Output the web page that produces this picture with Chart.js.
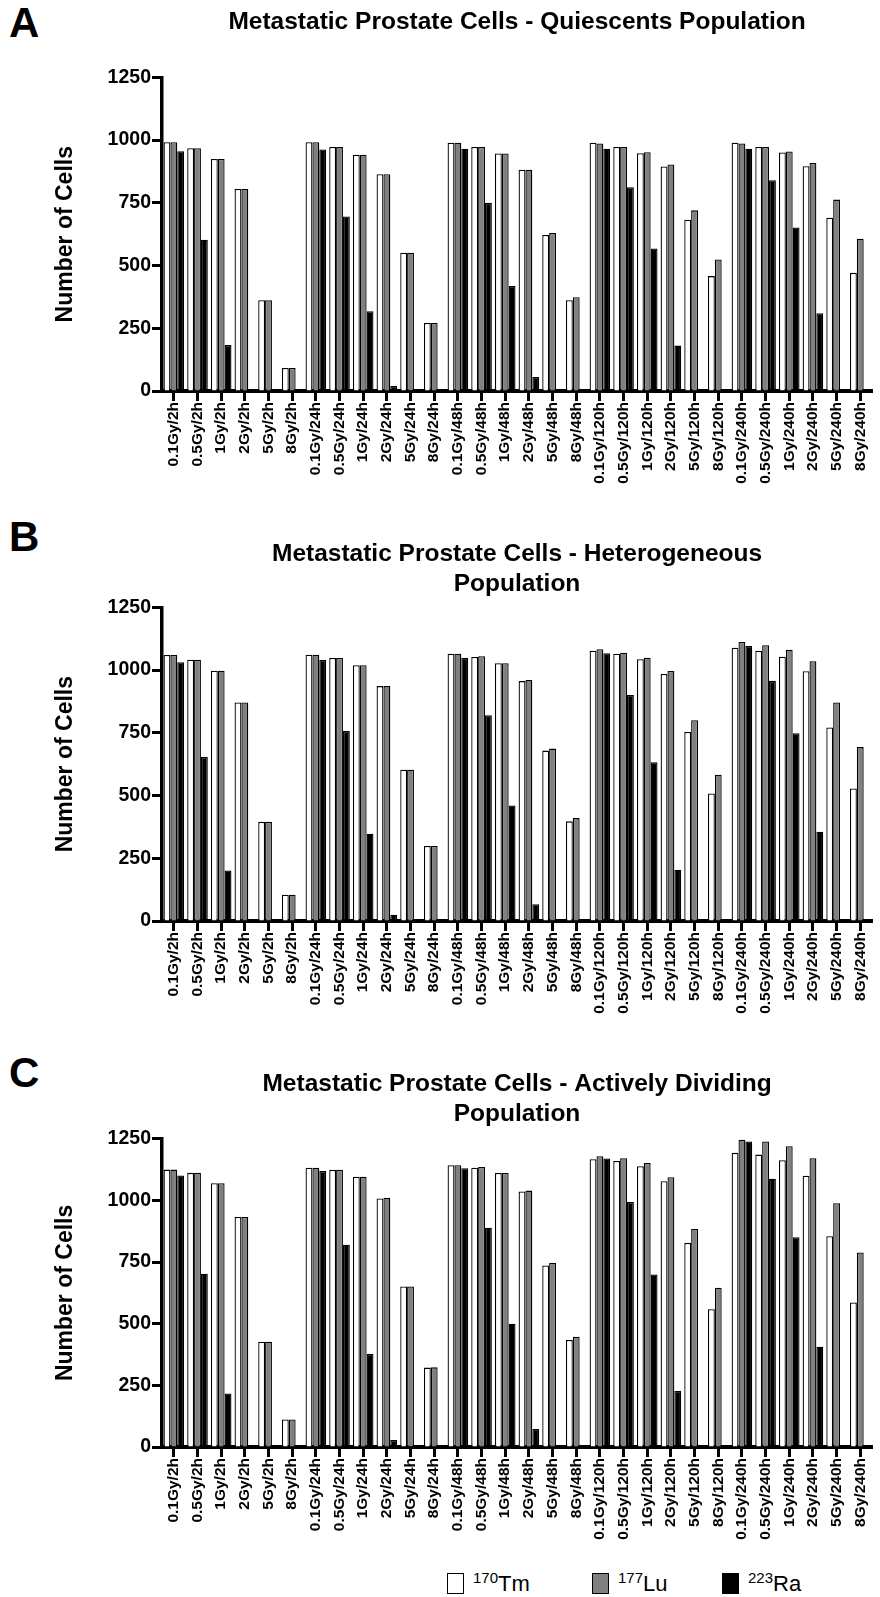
<!DOCTYPE html>
<html>
<head>
<meta charset="utf-8">
<script src="https://cdn.jsdelivr.net/npm/chart.js@4.4.1/dist/chart.umd.min.js"></script>
<style>
  body { margin: 0; background: #fff; font-family: Arial, 'Liberation Sans', sans-serif; }
  #page { position: relative; width: 880px; height: 1597px; overflow: hidden; }
  canvas { position: absolute; left: 0; }
  .letter { position: absolute; left: 9px; font-weight: bold; font-size: 42px; line-height: 42px; }
  .legend { position: absolute; top: 1572px; font-size: 22px; line-height: 24px; white-space: nowrap; }
  .legend .box { display: inline-block; width: 15px; height: 19px; border: 1.5px solid #000; vertical-align: -3px; margin-right: 9px; }
  .legend sup { font-size: 15px; vertical-align: 8px; line-height: 0; }
</style>
</head>
<body>
<div id="page">
  <div class="letter" style="top:2px">A</div>
  <div class="letter" style="top:516px">B</div>
  <div class="letter" style="top:1052px">C</div>

  <canvas id="chartA" width="880" height="490" style="top:0px"></canvas>
  <canvas id="chartB" width="880" height="520" style="top:500px"></canvas>
  <canvas id="chartC" width="880" height="526" style="top:1020px"></canvas>

  <div class="legend" style="left:447px"><span class="box" style="background:#fff"></span><sup>170</sup>Tm</div>
  <div class="legend" style="left:592px"><span class="box" style="background:#808080"></span><sup>177</sup>Lu</div>
  <div class="legend" style="left:722px"><span class="box" style="background:#000"></span><sup>223</sup>Ra</div>
</div>

<script>
// dose / time combinations on the x axis
const labels = [
  '0.1Gy/2h', '0.5Gy/2h', '1Gy/2h', '2Gy/2h', '5Gy/2h', '8Gy/2h',
  '0.1Gy/24h', '0.5Gy/24h', '1Gy/24h', '2Gy/24h', '5Gy/24h', '8Gy/24h',
  '0.1Gy/48h', '0.5Gy/48h', '1Gy/48h', '2Gy/48h', '5Gy/48h', '8Gy/48h',
  '0.1Gy/120h', '0.5Gy/120h', '1Gy/120h', '2Gy/120h', '5Gy/120h', '8Gy/120h',
  '0.1Gy/240h', '0.5Gy/240h', '1Gy/240h', '2Gy/240h', '5Gy/240h', '8Gy/240h'
];
const seriesNames = ['170Tm', '177Lu', '223Ra'];
const yTicks = [0, 250, 500, 750, 1000, 1250];

// A - quiescent population
const tmA = [992, 968, 925, 805, 362, 92, 992, 973, 942, 864, 551, 271, 990, 973, 947, 882, 622, 362, 990, 973, 948, 895, 683, 458, 990, 973, 951, 896, 691, 471];
const luA = [992, 968, 925, 805, 362, 92, 992, 973, 942, 864, 551, 271, 990, 973, 947, 882, 630, 374, 987, 973, 952, 903, 720, 524, 987, 973, 955, 909, 763, 607];
const raA = [956, 603, 183, 0, 0, 0, 963, 696, 318, 20, 0, 0, 966, 750, 419, 56, 0, 0, 966, 812, 568, 181, 0, 0, 966, 840, 652, 310, 0, 0];

// B - heterogeneous population
const tmB = [1060, 1041, 997, 871, 395, 105, 1061, 1048, 1019, 936, 603, 299, 1065, 1052, 1027, 956, 679, 397, 1077, 1065, 1043, 984, 753, 508, 1089, 1077, 1053, 995, 771, 528];
const luB = [1060, 1041, 997, 871, 395, 105, 1061, 1048, 1019, 936, 603, 299, 1065, 1055, 1027, 960, 687, 410, 1083, 1069, 1049, 996, 800, 583, 1112, 1099, 1081, 1035, 871, 693];
const raB = [1031, 653, 201, 0, 0, 0, 1040, 757, 348, 25, 0, 0, 1048, 820, 460, 67, 0, 0, 1067, 901, 633, 204, 0, 0, 1096, 957, 748, 356, 0, 0];

// C - actively dividing population
const tmC = [1125, 1112, 1070, 933, 427, 112, 1133, 1124, 1096, 1008, 651, 322, 1143, 1133, 1111, 1036, 736, 434, 1167, 1160, 1139, 1078, 828, 559, 1193, 1186, 1163, 1100, 855, 586];
const luC = [1125, 1112, 1070, 933, 427, 112, 1133, 1124, 1096, 1011, 651, 323, 1143, 1136, 1111, 1040, 746, 447, 1179, 1171, 1152, 1094, 884, 646, 1246, 1239, 1220, 1171, 989, 789];
const raC = [1101, 703, 217, 0, 0, 0, 1119, 820, 377, 28, 0, 0, 1131, 889, 500, 73, 0, 0, 1170, 994, 700, 227, 0, 0, 1239, 1088, 851, 407, 0, 0];

const fills = ['#ffffff', '#808080', '#000000'];
const FONT = "Arial, 'Liberation Sans', sans-serif";

function makePanel(id, title, values, titlePad) {
    new Chart(document.getElementById(id), {
        type: 'bar',
        data: {
            labels: labels,
            datasets: values.map(function(v, i){
                return {
                    label: seriesNames[i],
                    data: v,
                    backgroundColor: fills[i],
                    borderColor: '#000',
                    // no outline for empty bars
                    borderWidth: function(ctx){ return ctx.raw ? 1.3 : 0; },
                    categoryPercentage: 0.87,
                    barPercentage: 1.0
                };
            })
        },
        options: {
            responsive: false,
            animation: false,
            layout: { padding: { left: 0, right: 2, top: 0, bottom: 0 } },
            plugins: {
                legend: { display: false },
                tooltip: { enabled: false },
                title: {
                    display: true,
                    text: title,
                    fullSize: false,
                    color: '#000',
                    font: { family: FONT, size: 24.5, weight: 'bold', lineHeight: 1.2 },
                    padding: titlePad
                }
            },
            scales: {
                x: {
                    grid: { display: true, drawOnChartArea: false, offset: false, tickLength: 10, tickWidth: 3, tickColor: '#000' },
                    border: { display: true, color: '#000', width: 4 },
                    ticks: {
                        autoSkip: false, maxRotation: 90, minRotation: 90, padding: 1,
                        color: '#000', font: { family: FONT, size: 15.5, weight: 'bold' }
                    },
                    afterFit: function(s){ s.height = 99; }
                },
                y: {
                    min: 0, max: 1250,
                    afterBuildTicks: function(s){ s.ticks = yTicks.map(function(v){ return { value: v }; }); },
                    grid: { display: true, drawOnChartArea: false, tickLength: 10, tickWidth: 3, tickColor: '#000' },
                    border: { display: true, color: '#000', width: 3.5 },
                    ticks: {
                        padding: 1, color: '#000', font: { family: FONT, size: 19.5, weight: 'bold' },
                        callback: function(v){ return String(v); }
                    },
                    title: {
                        display: true, text: 'Number of Cells', color: '#000',
                        font: { family: FONT, size: 23, weight: 'bold', lineHeight: 1.2 },
                        padding: { top: 52, bottom: 0 }
                    },
                    afterFit: function(s){ s.width = 162; }
                }
            }
        }
    });
}

makePanel('chartA', 'Metastatic Prostate Cells - Quiescents Population', [tmA, luA, raA], { top: 8, bottom: 40 });
makePanel('chartB', ['Metastatic Prostate Cells - Heterogeneous', 'Population'], [tmB, luB, raB], { top: 40, bottom: 8.5 });
makePanel('chartC', ['Metastatic Prostate Cells - Actively Dividing', 'Population'], [tmC, luC, raC], { top: 50, bottom: 10 });
</script>
</body>
</html>
